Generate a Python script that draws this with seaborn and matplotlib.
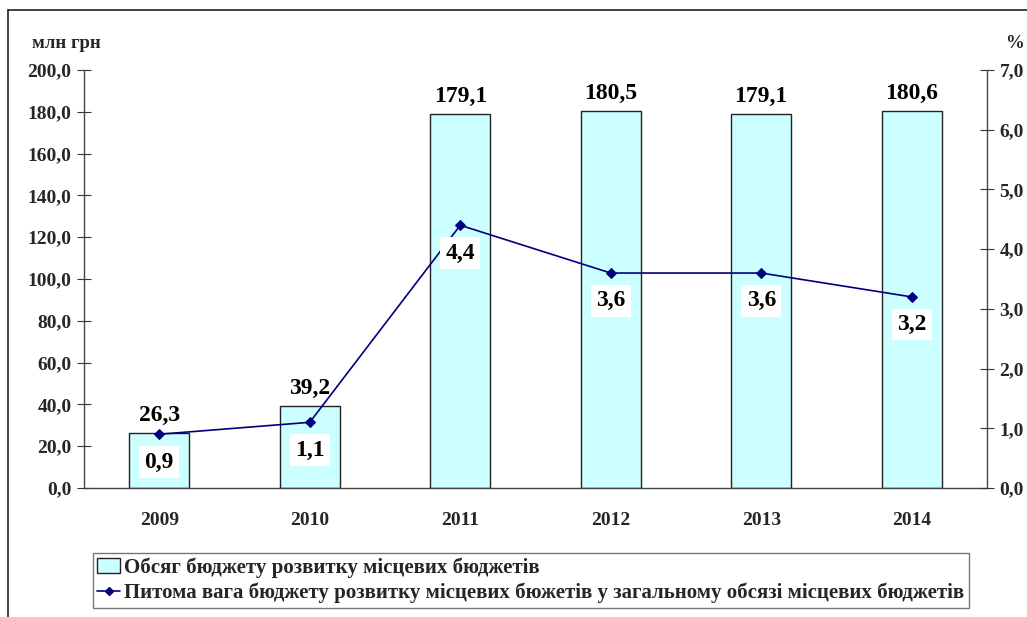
import matplotlib
matplotlib.use("Agg")
import matplotlib.pyplot as plt
import seaborn as sns
import pandas as pd
from matplotlib.patches import Patch
from matplotlib.lines import Line2D

years = ["2009", "2010", "2011", "2012", "2013", "2014"]
budget = [26.3, 39.2, 179.1, 180.5, 179.1, 180.6]
share = [0.9, 1.1, 4.4, 3.6, 3.6, 3.2]
left_ticks = [0, 20, 40, 60, 80, 100, 120, 140, 160, 180, 200]
right_ticks = [0, 1, 2, 3, 4, 5, 6, 7]
bar_label = "Обсяг бюджету розвитку місцевих бюджетів"
line_label = "Питома вага бюджету розвитку місцевих бюжетів у загальному обсязі місцевих бюджетів"

sns.set_theme(style="white")
plt.rcParams["font.family"] = ["Liberation Serif", "DejaVu Serif"]
plt.rcParams["font.weight"] = "bold"

def fmt(v):
    return f"{v:.1f}".replace(".", ",")

df = pd.DataFrame({"year": years, "budget": budget, "share": share, "pos": range(len(years))})

fig = plt.figure(figsize=(10.27, 6.17), dpi=100)
ax = fig.add_axes([84/1027, 1-488/617, (987-84)/1027, (488-70)/617])

sns.barplot(data=df, x="year", y="budget", ax=ax, color="#CCFFFF", width=0.4,
            edgecolor="#222222", linewidth=1.0, saturation=1)
ax.set_xlim(-0.5, len(years) - 0.5)
ax.set_ylim(0, 200)
ax.set_yticks(left_ticks)
ax.set_yticklabels([fmt(v) for v in left_ticks], fontsize=14, fontweight="bold")
ax.set_xlabel("")
ax.set_ylabel("")
ax.set_xticks(range(len(years)))
ax.set_xticklabels(years, fontsize=14, fontweight="bold")
ax.set_xticks([i + 0.5 for i in range(len(years) - 1)], minor=True)
ax.tick_params(axis="x", which="major", length=0, pad=17)
ax.tick_params(axis="x", which="minor", direction="inout", length=10, width=0.8, color="#333333")
ax.tick_params(axis="y", direction="inout", length=10, width=0.8, color="#333333", pad=4, left=True)
for s in ["left", "bottom"]:
    ax.spines[s].set_color("#444444")
    ax.spines[s].set_linewidth(1.0)
ax.spines["top"].set_visible(False)
ax.spines["right"].set_visible(False)

for i, v in enumerate(budget):
    ax.annotate(fmt(v), (i, v), xytext=(0, 5), textcoords="offset points",
                ha="center", va="bottom", fontsize=17, fontweight="bold", color="black")

ax2 = ax.twinx()
sns.lineplot(data=df, x="pos", y="share", ax=ax2, color="#000080", linewidth=1.2,
             marker="D", markersize=5, markeredgecolor="#000080")
ax2.set_ylim(0, 7)
ax2.set_yticks(right_ticks)
ax2.set_yticklabels([fmt(v) for v in right_ticks], fontsize=14, fontweight="bold")
ax2.set_xlabel("")
ax2.set_ylabel("")
ax2.tick_params(axis="y", direction="inout", length=10, width=0.8, color="#333333", pad=4, right=True)
ax2.spines["right"].set_color("#444444")
ax2.spines["right"].set_linewidth(1.0)
for s in ["top", "left", "bottom"]:
    ax2.spines[s].set_visible(False)
ax2.set_xlim(-0.5, len(years) - 0.5)

for i, v in enumerate(share):
    ax2.annotate(fmt(v), (i, v), xytext=(0, -20), textcoords="offset points",
                 ha="center", va="center", fontsize=17, fontweight="bold", color="black",
                 bbox=dict(boxstyle="square,pad=0.22", fc="white", ec="none"))

fig.text(32/1027, 1-43/617, "млн грн", fontsize=13.5, fontweight="bold", va="center", ha="left")
fig.text(1005/1027, 1-43/617, "%", fontsize=13.5, fontweight="bold", va="center", ha="left")

# outer frame
fig.add_artist(Line2D([8/1027, 1], [1-10/617, 1-10/617], transform=fig.transFigure, color="#222222", lw=1.2))
fig.add_artist(Line2D([8/1027, 8/1027], [0, 1-10/617], transform=fig.transFigure, color="#222222", lw=1.2))

handles = [Patch(facecolor="#CCFFFF", edgecolor="#222222", label=bar_label),
           Line2D([0], [0], color="#000080", marker="D", markersize=4, lw=1.2, label=line_label)]
leg = fig.legend(handles=handles, loc="upper left", bbox_to_anchor=(93/1027, 1-553/617),
                 frameon=True, fancybox=False, edgecolor="#555555",
                 prop={"weight": "bold", "size": 15}, handlelength=1.1, handletextpad=0.2,
                 borderpad=0.2, labelspacing=0.25, borderaxespad=0)
leg.get_frame().set_linewidth(1.0)

fig.savefig("out.png", dpi=100)
